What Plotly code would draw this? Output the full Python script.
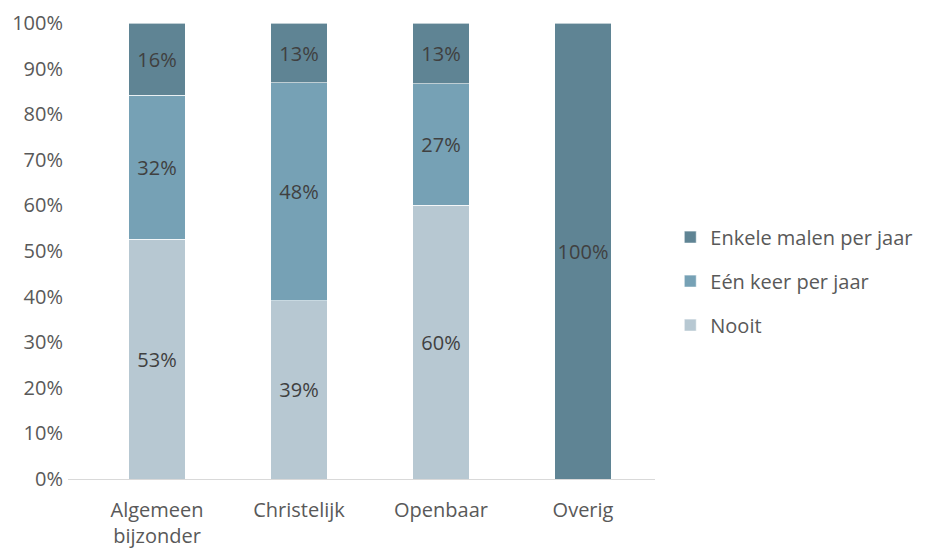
import plotly.graph_objects as go

categories = ["Algemeen<br>bijzonder", "Christelijk", "Openbaar", "Overig"]
nooit = [52.6, 39.1, 60.0, None]
een_keer = [31.6, 47.8, 26.7, None]
enkele = [15.8, 13.0, 13.3, 100.0]
series_names = ["Nooit", "Eén keer per jaar", "Enkele malen per jaar"]
colors = ["#B7C8D2", "#76A1B5", "#5F8494"]
ticks = list(range(0, 101, 10))
tick_labels = [f"{t}%" for t in ticks]

FONT = "Open Sans"
FS = 20
fig = go.Figure()
for i, (name, vals) in enumerate(zip(series_names, [nooit, een_keer, enkele])):
    fig.add_trace(go.Bar(
        x=[0, 1, 2, 3], y=vals, name=name, legendgroup=name, legendrank=3 - i,
        marker=dict(color=colors[i], line=dict(color="#FFFFFF", width=0.6)),
        texttemplate="%{y:.0f}%", textposition="inside", insidetextanchor="middle",
        textangle=0, constraintext="none",
        textfont=dict(color="#404040", size=FS, family=FONT),
        width=0.4, hoverinfo="skip",
    ))

fig.update_layout(
    barmode="stack",
    width=980, height=541,
    margin=dict(l=60, r=333, t=15, b=70),
    plot_bgcolor="white", paper_bgcolor="white",
    font=dict(family=FONT, size=FS, color="#595959"),
    showlegend=True,
    legend=dict(x=1.026, y=0.434, xanchor="left", yanchor="middle",
                traceorder="grouped", tracegroupgap=15,
                font=dict(size=20, color="#595959", family=FONT),
                itemwidth=30),
    uniformtext=dict(mode=False),
)
fig.update_xaxes(
    range=[-0.627, 3.507], tickmode="array", tickvals=[0, 1, 2, 3], ticktext=categories,
    showgrid=False, showline=True, linecolor="#D9D9D9", linewidth=1.3,
    ticks="", ticklen=0, zeroline=False, ticklabelstandoff=13, automargin=False,
    tickfont=dict(size=FS, color="#595959", family=FONT),
)
fig.update_yaxes(
    range=[0, 100], tickmode="array", tickvals=ticks, ticktext=tick_labels,
    showgrid=False, showline=False, zeroline=False, ticks="", automargin=False,
    ticklabelstandoff=4,
    tickfont=dict(size=FS, color="#595959", family=FONT),
)
fig.write_html("out.html")
